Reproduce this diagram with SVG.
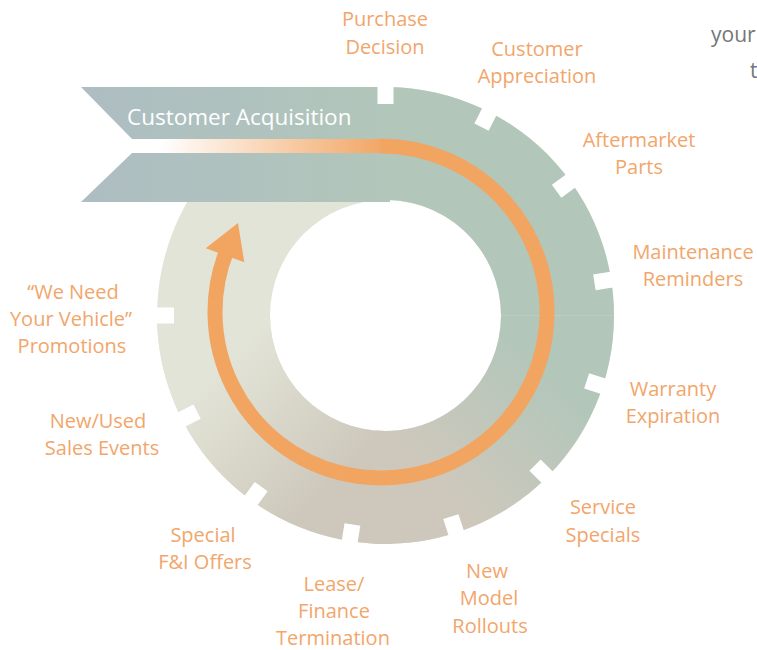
<svg xmlns="http://www.w3.org/2000/svg" xmlns:xlink="http://www.w3.org/1999/xlink" width="757" height="650" viewBox="0 0 757 650">
<style>
.lbl { font-family: "Open Sans", "Liberation Sans", sans-serif; font-size: 20px; fill: #f1a66b; text-anchor: middle; }
.gray { font-family: "Open Sans", "Liberation Sans", sans-serif; font-size: 21px; fill: #757679; }
.ban { font-family: "Open Sans", "Liberation Sans", sans-serif; font-size: 22.5px; fill: #ffffff; }
.arrow { fill: none; stroke: #f2a461; stroke-width: 15; }
</style>
<defs>
<linearGradient id="banGrad" gradientUnits="userSpaceOnUse" x1="81" y1="0" x2="390" y2="0">
<stop offset="0" stop-color="#adbdc2"/>
<stop offset="1" stop-color="#b2c6ba"/>
</linearGradient>
<linearGradient id="lineGrad" gradientUnits="userSpaceOnUse" x1="160" y1="0" x2="388" y2="0">
<stop offset="0" stop-color="#ffffff"/>
<stop offset="1" stop-color="#f2a461"/>
</linearGradient>
<linearGradient id="lrGrad" gradientUnits="userSpaceOnUse" x1="614" y1="315.5" x2="385.5" y2="544">
<stop offset="0.25" stop-color="#b2c6ba"/>
<stop offset="0.75" stop-color="#cec8bc"/>
</linearGradient>
<linearGradient id="llGrad" gradientUnits="userSpaceOnUse" x1="385.5" y1="544" x2="157" y2="315.5">
<stop offset="0.25" stop-color="#cec8bc"/>
<stop offset="0.75" stop-color="#e2e4d7"/>
</linearGradient>
<rect id="notch" x="597" y="307.5" width="22" height="16" fill="#ffffff"/>
</defs>

<g id="ring">
<path fill="#e2e4d7" fill-rule="evenodd" d="M614 315.5A228.5 228.5 0 1 1 157 315.5A228.5 228.5 0 1 1 614 315.5ZM501 315.5A115.5 115.5 0 1 0 270 315.5A115.5 115.5 0 1 0 501 315.5Z"/>
<path fill="#b2c6ba" d="M365.6 87.9A228.5 228.5 0 0 1 614 315.5L501 315.5A115.5 115.5 0 0 0 375.4 200.4Z"/>
<path fill="url(#lrGrad)" d="M614 315.5A228.5 228.5 0 0 1 365.6 543.1L375.4 430.6A115.5 115.5 0 0 0 501 315.5Z"/>
<path fill="url(#llGrad)" d="M385.5 544A228.5 228.5 0 0 1 157 315.5L270 315.5A115.5 115.5 0 0 0 385.5 431Z"/>
</g>

<g id="banner">
<polygon fill="url(#banGrad)" points="81,87 390,87 390,139 132,139"/>
<polygon fill="url(#banGrad)" points="132,153 390,153 390,202 81,202"/>
<text class="ban" x="127" y="124.5">Customer Acquisition</text>
</g>

<g id="notches">
<use xlink:href="#notch" transform="rotate(270 385.5 315.5)"/>
<use xlink:href="#notch" transform="rotate(297 385.5 315.5)"/>
<use xlink:href="#notch" transform="rotate(324 385.5 315.5)"/>
<use xlink:href="#notch" transform="rotate(351 385.5 315.5)"/>
<use xlink:href="#notch" transform="rotate(18 385.5 315.5)"/>
<use xlink:href="#notch" transform="rotate(45 385.5 315.5)"/>
<use xlink:href="#notch" transform="rotate(72 385.5 315.5)"/>
<use xlink:href="#notch" transform="rotate(99 385.5 315.5)"/>
<use xlink:href="#notch" transform="rotate(126 385.5 315.5)"/>
<use xlink:href="#notch" transform="rotate(153 385.5 315.5)"/>
<use xlink:href="#notch" transform="rotate(180 385.5 315.5)"/>
</g>

<g id="connectors">
<rect x="132" y="139" width="252" height="14" fill="url(#lineGrad)"/>
<path class="arrow" d="M381 146A166 166 0 1 1 227.1 249.8"/>
<polygon fill="#f2a461" points="238,223 244.3,262.2 205.7,248.2"/>
</g>

<g id="purchase-decision"><text class="lbl" x="385" y="26">Purchase</text><text class="lbl" x="385" y="54">Decision</text></g>
<g id="customer-appreciation"><text class="lbl" x="537" y="56">Customer</text><text class="lbl" x="537" y="83">Appreciation</text></g>
<g id="aftermarket-parts"><text class="lbl" x="639" y="147">Aftermarket</text><text class="lbl" x="639" y="174">Parts</text></g>
<g id="maintenance-reminders"><text class="lbl" x="693" y="259">Maintenance</text><text class="lbl" x="693" y="286">Reminders</text></g>
<g id="warranty-expiration"><text class="lbl" x="673" y="396">Warranty</text><text class="lbl" x="673" y="423">Expiration</text></g>
<g id="service-specials"><text class="lbl" x="603" y="514">Service</text><text class="lbl" x="603" y="542">Specials</text></g>
<g id="new-model-rollouts"><text class="lbl" x="487" y="578">New</text><text class="lbl" x="489" y="605">Model</text><text class="lbl" x="490" y="633">Rollouts</text></g>
<g id="lease-finance-termination"><text class="lbl" x="334" y="591">Lease/</text><text class="lbl" x="334" y="618">Finance</text><text class="lbl" x="333" y="645">Termination</text></g>
<g id="special-fi-offers"><text class="lbl" x="203" y="542">Special</text><text class="lbl" x="205" y="569">F&amp;I Offers</text></g>
<g id="new-used-sales-events"><text class="lbl" x="98" y="428">New/Used</text><text class="lbl" x="102" y="455">Sales Events</text></g>
<g id="we-need-your-vehicle"><text class="lbl" x="73" y="299">“We Need</text><text class="lbl" x="71" y="326">Your Vehicle”</text><text class="lbl" x="72" y="353">Promotions</text></g>

<g id="side-text">
<text class="gray" x="711" y="42">your</text>
<text class="gray" x="750" y="78">t</text>
</g>
</svg>
